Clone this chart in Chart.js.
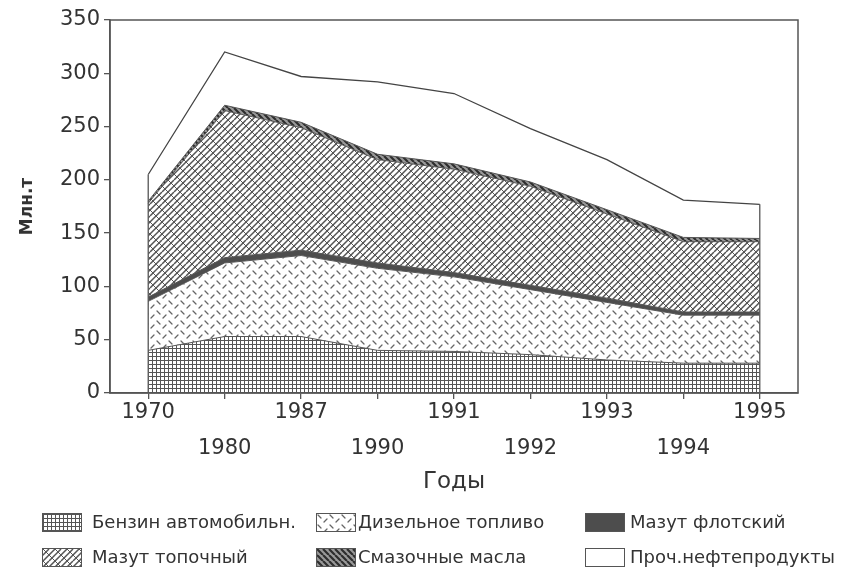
<!DOCTYPE html>
<html><head><meta charset="utf-8">
<script src="https://cdn.jsdelivr.net/npm/chart.js@4"></script>
<style>
body{margin:0;background:#fff;}
#wrap{position:relative;width:850px;height:572px;}
#c{position:absolute;left:0;top:0;}
.lg-sw{position:absolute;border:1px solid #555;box-sizing:border-box;}
.lg-tx{position:absolute;font-family:"DejaVu Sans";font-size:18px;color:#333;line-height:20px;white-space:nowrap;}
</style></head>
<body><div id="wrap"><canvas id="c" width="850" height="572"></canvas><div id="legend"></div></div>
<script>
// ---- data ----
const years = ['1970','1980','1987','1990','1991','1992','1993','1994','1995'];
const benzin    = [40, 53, 53, 40, 39, 36, 31, 28, 28];
const dizel     = [46, 69, 76, 77, 70, 61, 54, 45, 45];
const mazutFlot = [4, 5, 5, 5, 4, 4, 4, 3, 3];
const mazutTop  = [88, 138, 115, 97, 97, 93, 79, 66, 66];
const masla     = [2, 5, 5, 5, 5, 4, 4, 4, 3];
const proch     = [25, 50, 43, 68, 66, 50, 47, 35, 32];
const seriesNames = ['Бензин автомобильн.', 'Дизельное топливо', 'Мазут флотский', 'Мазут топочный', 'Смазочные масла', 'Проч.нефтепродукты'];
const yMin = 0, yMax = 350, yStep = 50;
const xTitle = 'Годы', yTitle = 'Млн.т';

// ---- patterns ----
function tile(w,h,draw){const c=document.createElement('canvas');c.width=w;c.height=h;const x=c.getContext('2d');x.fillStyle='#fff';x.fillRect(0,0,w,h);draw(x);return c;}
const tiles = {
  grid: tile(8,4,x=>{x.fillStyle='#555';x.fillRect(0,0,8,1);x.fillRect(0,0,1,4);x.fillRect(4,0,1,4);}),
  dash: tile(12,10,x=>{x.strokeStyle='#666';x.lineWidth=1.3;x.lineCap='round';x.beginPath();x.moveTo(1,1);x.lineTo(4,4);x.moveTo(7,8);x.lineTo(10,5);x.stroke();}),
  brick: tile(12,12,x=>{x.strokeStyle='#555';x.lineWidth=1.5;x.beginPath();for(const c of [-6,0,6,12,18,24,30]){x.moveTo(c,0);x.lineTo(c-12,12);}x.stroke();x.lineWidth=1;x.beginPath();x.moveTo(0,0);x.lineTo(12,12);x.stroke();}),
  stripe: tile(6,6,x=>{x.fillStyle='#999';x.fillRect(0,0,6,6);x.strokeStyle='#2e2e2e';x.lineWidth=2.2;x.beginPath();for(const c of [-6,0,6]){x.moveTo(c,0);x.lineTo(c+6,6);}x.stroke();})
};
const solidFlot = '#4d4d4d';
const ctx = document.getElementById('c').getContext('2d');
const fills = [ctx.createPattern(tiles.grid,'repeat'), ctx.createPattern(tiles.dash,'repeat'), solidFlot, ctx.createPattern(tiles.brick,'repeat'), ctx.createPattern(tiles.stripe,'repeat'), '#ffffff'];
const seriesData = [benzin, dizel, mazutFlot, mazutTop, masla, proch];

const datasets = seriesData.map((d,i)=>({
  label: seriesNames[i], data: d, backgroundColor: fills[i],
  borderColor: i===5 ? '#444' : '#555', borderWidth: i===5 ? 1.3 : 1,
  fill: i===0 ? 'origin' : '-1', pointRadius: 0, tension: 0
}));

const framePlugin = {
  id:'frame',
  afterDatasetsDraw(chart){
    const {ctx, chartArea:a, scales:{x,y}} = chart;
    ctx.save();
    ctx.strokeStyle='#555'; ctx.lineWidth=1.3;
    [0, years.length-1].forEach(i=>{
      const tot = seriesData.reduce((s,d)=>s+d[i],0);
      const px = x.getPixelForValue(i);
      ctx.beginPath(); ctx.moveTo(px, y.getPixelForValue(0)); ctx.lineTo(px, y.getPixelForValue(tot)); ctx.stroke();
    });
    ctx.lineWidth=1.5;
    ctx.strokeRect(a.left, a.top, a.right-a.left, a.bottom-a.top);
    ctx.restore();
  }
};

new Chart(ctx, {
  type:'line',
  data:{labels: years, datasets},
  plugins:[framePlugin],
  options:{
    responsive:false, animation:false,
    layout:{padding:{left:0,right:52,top:20,bottom:72}},
    plugins:{legend:{display:false}, tooltip:{enabled:false}},
    scales:{
      x:{
        offset:true,
        afterFit(s){s.height=107;},
        grid:{drawOnChartArea:false, drawTicks:true, tickLength:6, color:'#555', lineWidth:1.3},
        border:{color:'#555', width:1.5},
        ticks:{color:'#333', padding:-4, maxRotation:0, autoSkip:false,
          font:{family:'DejaVu Sans', size:21, lineHeight:'36px'},
          callback:(v,i)=> i%2===0 ? years[i] : ['', years[i]]},
        title:{display:true, text:xTitle, color:'#333', font:{family:'DejaVu Sans', size:23}, padding:{top:0,bottom:4}}
      },
      y:{
        stacked:true, min:yMin, max:yMax,
        afterFit(s){s.width=110;},
        grid:{drawOnChartArea:false, drawTicks:true, tickLength:6, color:'#555', lineWidth:1.3},
        border:{color:'#555', width:1.5},
        ticks:{stepSize:yStep, color:'#333', padding:4, font:{family:'DejaVu Sans', size:21}},
        title:{display:true, text:yTitle, color:'#333', font:{family:'DejaVu Sans', size:17, weight:'bold'}, padding:{top:17,bottom:0}}
      }
    }
  }
});

// ---- legend (HTML) ----
const lg = document.getElementById('legend');
const swLeft=[42,316,585], txLeft=[92,358,630], rowY=[522,557];
seriesNames.forEach((name,i)=>{
  const col=i%3, row=Math.floor(i/3);
  const sw=document.createElement('canvas'); sw.width=38; sw.height=17; sw.className='lg-sw';
  sw.style.left=swLeft[col]+'px'; sw.style.top=(rowY[row]-9)+'px';
  const sc=sw.getContext('2d'); const f=fills[i];
  sc.fillStyle = (typeof f==='string') ? f : sc.createPattern([tiles.grid,tiles.dash,null,tiles.brick,tiles.stripe][i],'repeat');
  sc.fillRect(0,0,38,17);
  lg.appendChild(sw);
  const t=document.createElement('div'); t.className='lg-tx'; t.textContent=name;
  t.style.left=txLeft[col]+'px'; t.style.top=(rowY[row]-10)+'px';
  lg.appendChild(t);
});
</script>
</body></html>
